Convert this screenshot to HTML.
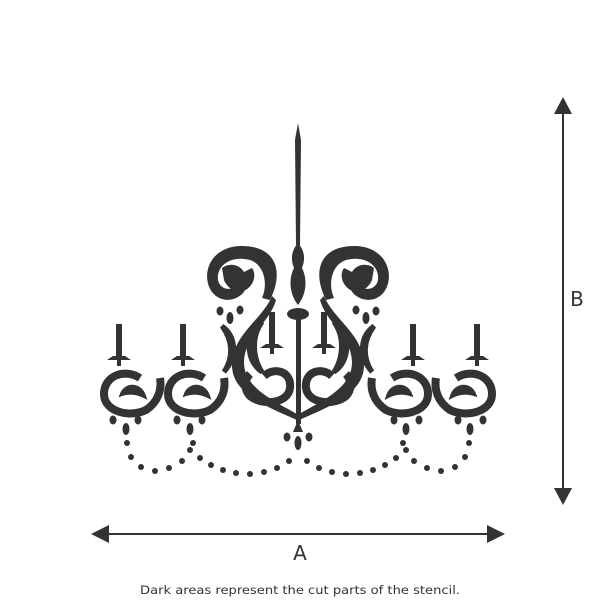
<!DOCTYPE html>
<html><head><style>
html,body{margin:0;padding:0;background:#fff;}
svg{display:block;}
</style></head><body>
<svg width="600" height="600" viewBox="0 0 600 600" xmlns="http://www.w3.org/2000/svg">
<defs>
<g id="half" fill="#333" stroke="none">
  <path d="M270,300 C285,270 275,245 240,246 C210,247 200,275 212,292 C222,305 240,300 245,290 L238,284 C232,292 220,290 218,280 C216,265 232,255 250,260 C265,265 268,285 262,298 Z"/>
  <path d="M222,268 C230,262 240,265 244,272 L252,268 C258,276 252,290 240,292 C232,292 226,285 224,280 Z" fill="#333"/>
  <path d="M272,296 C262,320 232,335 232,365 C232,392 262,405 297,420 L297,414 C268,398 244,386 244,362 C244,338 270,322 276,300 Z"/>
  <path d="M222,326 C236,336 238,356 224,372 C234,356 232,340 222,326 Z" stroke="#333" stroke-width="5"/>
  <path d="M262,322 C246,332 244,360 262,372 C252,356 252,336 262,322 Z" stroke="#333" stroke-width="5"/>
  <path d="M264,376 C275,366 292,372 290,388 C288,404 262,406 250,396 C244,390 244,380 250,374" fill="none" stroke="#333" stroke-width="8"/>
  <ellipse cx="220" cy="311" rx="3.5" ry="4.5"/>
  <ellipse cx="230" cy="318" rx="3.5" ry="6"/>
  <ellipse cx="240" cy="310" rx="3.5" ry="4.5"/>
  <g id="candle">
    <rect x="116" y="324" width="6" height="34"/>
    <path d="M107,360 L131,360 L125,356 L113,356 Z"/>
    <rect x="117" y="358" width="4" height="8"/>
  </g>
  <use href="#candle" x="64"/>
  <use href="#candle" x="153" y="-12"/>
  <g id="ring">
    <path d="M140,378 C124,368 104,376 104,394 C104,412 130,418 146,410 C158,402 162,390 160,378" fill="none" stroke="#333" stroke-width="8"/>
    <path d="M122,394 C126,384 140,384 144,396 C136,392 128,392 122,394 Z" stroke="#333" stroke-width="4"/>
    <ellipse cx="113" cy="420" rx="3.5" ry="4.5"/>
    <ellipse cx="126" cy="429" rx="3.5" ry="6"/>
    <ellipse cx="138" cy="420" rx="3.5" ry="4.5"/>
  </g>
  <use href="#ring" x="64"/>
  <circle cx="127" cy="443" r="3"/><circle cx="131" cy="457" r="3"/><circle cx="141" cy="467" r="3"/>
  <circle cx="155" cy="471" r="3"/><circle cx="169" cy="468" r="3"/><circle cx="182" cy="461" r="3"/>
  <circle cx="190" cy="450" r="3"/><circle cx="193" cy="443" r="3"/>
  <circle cx="200" cy="458" r="3"/><circle cx="211" cy="465" r="3"/><circle cx="223" cy="470" r="3"/>
  <circle cx="236" cy="473" r="3"/><circle cx="250" cy="474" r="3"/><circle cx="264" cy="472" r="3"/>
  <circle cx="277" cy="468" r="3"/><circle cx="289" cy="461" r="3"/>
</g>
</defs>
<use href="#half"/>
<use href="#half" transform="translate(596,0) scale(-1,1)"/>
<g fill="#333">
  <path d="M298,123 L301,140 L300,245 L296,245 L295,140 Z"/>
  <path d="M298,243 C304,250 306,258 302,268 C308,280 306,295 298,305 C290,295 288,280 294,268 C290,258 292,250 298,243 Z"/>
  <ellipse cx="298" cy="314" rx="11" ry="6"/>
  <rect x="296" y="314" width="5" height="110"/>
  <path d="M298,420 L303,432 L293,432 Z"/>
  <ellipse cx="287" cy="437" rx="3.5" ry="4.5"/>
  <ellipse cx="298" cy="443" rx="3.5" ry="7"/>
  <ellipse cx="309" cy="437" rx="3.5" ry="4.5"/>
</g>
<g fill="#333" stroke="#333">
  <line x1="100" y1="534" x2="495" y2="534" stroke-width="2"/>
  <path d="M91,534 L109,525 L109,543 Z" stroke="none"/>
  <path d="M505,534 L487,525 L487,543 Z" stroke="none"/>
  <line x1="563" y1="105" x2="563" y2="497" stroke-width="2"/>
  <path d="M563,97 L554,114 L572,114 Z" stroke="none"/>
  <path d="M563,505 L554,488 L572,488 Z" stroke="none"/>
</g>
<text x="300" y="560" font-family="DejaVu Sans, sans-serif" font-size="20" fill="#333" text-anchor="middle">A</text>
<text x="577" y="306" font-family="DejaVu Sans, sans-serif" font-size="20" fill="#333" text-anchor="middle">B</text>
<text x="300" y="594" font-family="DejaVu Sans, sans-serif" font-size="11.5" fill="#333" text-anchor="middle" textLength="320" lengthAdjust="spacingAndGlyphs">Dark areas represent the cut parts of the stencil.</text>
</svg>
</body></html>
